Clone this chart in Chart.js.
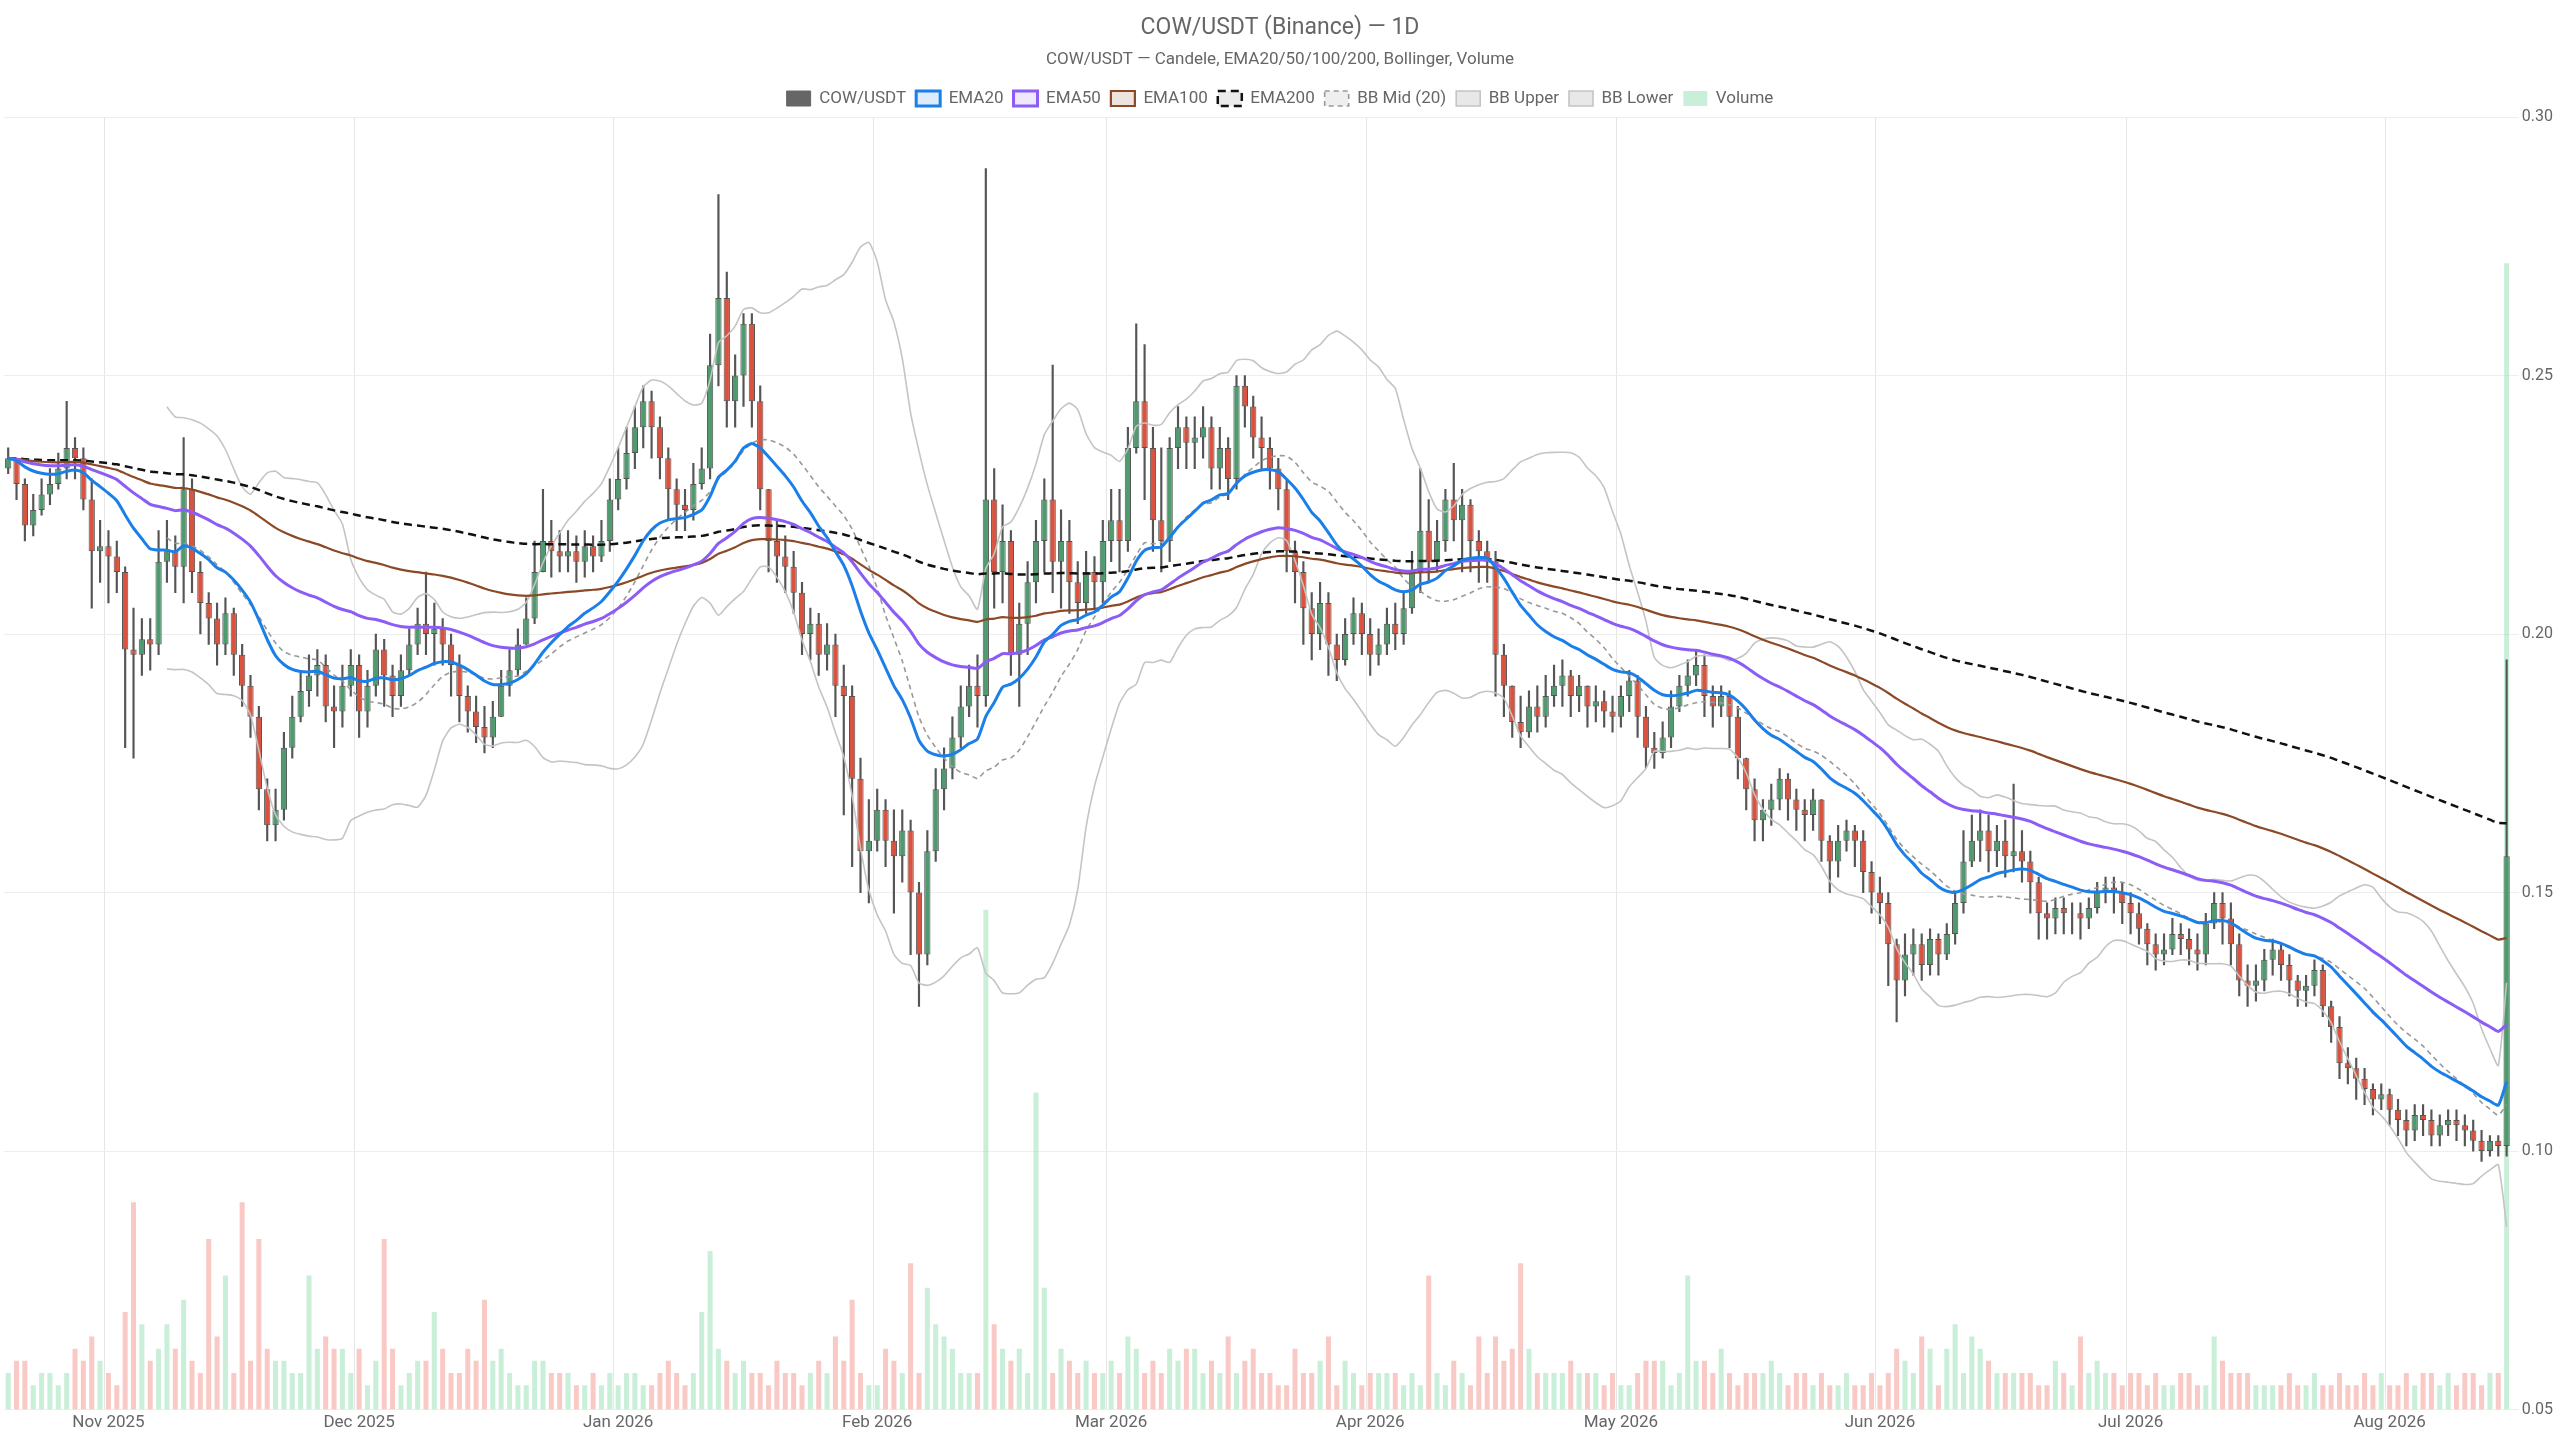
<!DOCTYPE html>
<html><head><meta charset="utf-8">
<script src="https://cdn.jsdelivr.net/npm/chart.js@4.4.1/dist/chart.umd.min.js"></script>
<style>html,body{margin:0;padding:0;background:#fff}#wrap{width:2560px;height:1440px}</style>
</head><body><div id="wrap"><canvas id="c"></canvas></div>
<script>
const startDate = '2025-10-20';
const closes = [
0.234,0.229,0.221,0.224,0.227,0.229,0.232,0.236,0.234,0.226,0.216,0.217,
0.215,0.212,0.197,0.196,0.199,0.198,0.214,0.216,0.213,0.228,0.212,0.206,0.203,0.198,0.204,0.196,0.190,0.184,0.170,0.163,0.166,0.178,0.184,0.189,0.192,0.194,0.186,0.185,0.190,0.194,
0.185,0.190,0.197,0.192,0.188,0.193,0.198,0.202,0.200,0.201,0.198,0.194,0.188,0.185,0.182,0.180,0.184,0.190,0.193,0.198,0.203,0.212,0.218,0.216,0.215,0.216,0.214,0.217,0.215,0.218,0.226,
0.230,0.235,0.240,0.245,0.240,0.234,0.228,0.225,0.224,0.229,0.232,0.252,0.265,0.245,0.250,0.260,0.245,0.228,0.218,0.215,0.213,0.208,0.200,0.202,0.196,0.198,0.190,0.188,0.172,0.158,0.160,
0.166,0.160,0.157,0.162,0.150,0.138,0.158,0.170,0.174,0.180,0.186,0.190,0.188,0.226,0.212,0.218,0.196,0.202,0.210,0.218,0.226,0.214,0.218,0.210,0.206,0.212,0.210,0.218,
0.222,0.218,0.236,0.245,0.236,0.222,0.218,0.236,0.240,0.237,0.238,0.240,0.232,0.236,0.230,0.248,0.244,0.238,0.236,0.232,0.228,0.216,0.212,0.205,0.200,0.206,0.198,0.195,0.200,0.204,0.200,
0.196,0.198,0.202,0.200,0.205,0.212,0.220,0.214,0.218,0.226,0.222,0.225,0.218,0.216,0.214,0.196,0.190,0.183,0.181,0.186,0.184,0.188,0.190,0.192,0.188,0.190,0.186,0.187,0.185,0.184,
0.188,0.191,0.184,0.178,0.177,0.180,0.186,0.190,0.192,0.194,0.188,0.186,0.188,0.184,0.176,0.170,0.164,0.166,0.168,0.172,0.168,0.166,0.165,0.168,0.160,0.156,0.160,0.162,0.160,0.154,0.150,
0.148,0.140,0.133,0.138,0.140,0.136,0.141,0.138,0.142,0.148,0.156,0.160,0.162,0.158,0.160,0.157,0.158,0.156,0.152,0.146,0.145,0.147,0.146,0.146,0.145,0.147,0.150,0.151,0.150,0.148,
0.146,0.143,0.140,0.138,0.139,0.142,0.141,0.139,0.138,0.144,0.148,0.145,0.140,0.133,0.132,0.133,0.137,0.139,0.136,0.133,0.131,0.132,0.135,0.128,0.124,0.117,0.116,0.114,0.112,0.110,0.111,
0.108,0.106,0.104,0.107,0.106,0.103,0.105,0.106,0.105,0.104,0.102,0.100,0.102,0.101,0.157];
const highs = [
0.236,0.234,0.230,0.227,0.230,0.232,0.235,0.245,0.238,0.236,0.230,0.222,
0.220,0.218,0.213,0.205,0.203,0.203,0.220,0.222,0.219,0.238,0.230,0.214,0.208,0.206,0.207,0.205,0.198,0.192,0.186,0.172,0.170,0.181,0.188,0.193,0.196,0.197,0.196,0.190,0.194,0.197,
0.196,0.193,0.200,0.199,0.194,0.196,0.201,0.205,0.212,0.206,0.203,0.200,0.196,0.190,0.188,0.186,0.187,0.193,0.197,0.201,0.207,0.218,0.228,0.222,0.220,0.220,0.219,0.220,0.219,0.222,0.230,
0.236,0.240,0.244,0.248,0.247,0.242,0.236,0.230,0.228,0.233,0.236,0.258,0.285,0.270,0.254,0.262,0.262,0.248,0.228,0.222,0.219,0.216,0.210,0.205,0.204,0.202,0.200,0.194,0.190,0.176,0.168,
0.170,0.168,0.166,0.166,0.164,0.152,0.162,0.174,0.178,0.184,0.190,0.194,0.196,0.290,0.232,0.225,0.220,0.206,0.214,0.222,0.230,0.252,0.224,0.222,0.214,0.216,0.215,0.222,
0.228,0.228,0.240,0.260,0.256,0.240,0.236,0.238,0.244,0.242,0.242,0.244,0.242,0.240,0.238,0.250,0.250,0.246,0.242,0.238,0.234,0.230,0.218,0.214,0.208,0.210,0.208,0.200,0.203,0.207,0.206,
0.203,0.201,0.205,0.206,0.208,0.216,0.232,0.226,0.222,0.228,0.233,0.228,0.226,0.220,0.218,0.216,0.198,0.190,0.188,0.189,0.190,0.192,0.194,0.195,0.193,0.192,0.190,0.190,0.189,0.188,
0.190,0.193,0.192,0.186,0.181,0.183,0.189,0.192,0.195,0.197,0.196,0.190,0.190,0.189,0.186,0.176,0.172,0.168,0.171,0.174,0.173,0.170,0.168,0.170,0.168,0.161,0.163,0.164,0.163,0.162,0.156,
0.153,0.150,0.141,0.142,0.143,0.142,0.143,0.142,0.144,0.150,0.162,0.165,0.166,0.165,0.163,0.164,0.171,0.162,0.158,0.153,0.148,0.149,0.149,0.148,0.148,0.149,0.152,0.153,0.153,0.152,
0.150,0.148,0.144,0.142,0.142,0.145,0.144,0.143,0.142,0.146,0.150,0.150,0.148,0.142,0.136,0.136,0.139,0.141,0.140,0.138,0.134,0.134,0.137,0.136,0.129,0.126,0.120,0.118,0.116,0.113,0.113,
0.112,0.110,0.108,0.109,0.109,0.108,0.107,0.108,0.108,0.107,0.106,0.104,0.103,0.103,0.195];
const lows = [
0.231,0.226,0.218,0.219,0.223,0.225,0.228,0.230,0.230,0.224,0.205,0.210,
0.206,0.208,0.178,0.176,0.192,0.193,0.196,0.210,0.208,0.206,0.208,0.200,0.198,0.194,0.196,0.192,0.186,0.180,0.166,0.160,0.160,0.164,0.176,0.183,0.186,0.188,0.183,0.178,0.182,0.188,
0.180,0.182,0.188,0.186,0.184,0.186,0.192,0.196,0.196,0.194,0.194,0.188,0.183,0.181,0.179,0.177,0.178,0.184,0.188,0.192,0.198,0.202,0.212,0.211,0.212,0.212,0.210,0.211,0.212,0.214,0.216,
0.224,0.228,0.232,0.236,0.234,0.230,0.222,0.220,0.220,0.222,0.228,0.230,0.248,0.240,0.240,0.244,0.240,0.224,0.212,0.210,0.208,0.204,0.196,0.195,0.192,0.193,0.184,0.165,0.155,0.150,0.148,
0.158,0.155,0.146,0.152,0.138,0.128,0.136,0.156,0.166,0.172,0.178,0.184,0.182,0.186,0.205,0.206,0.192,0.186,0.196,0.206,0.212,0.208,0.205,0.204,0.202,0.204,0.205,0.206,
0.214,0.212,0.216,0.235,0.226,0.216,0.212,0.214,0.232,0.232,0.232,0.234,0.228,0.228,0.226,0.228,0.240,0.234,0.232,0.228,0.224,0.212,0.206,0.198,0.195,0.197,0.192,0.191,0.194,0.198,0.196,
0.192,0.194,0.196,0.197,0.198,0.204,0.208,0.210,0.212,0.216,0.218,0.212,0.212,0.210,0.210,0.188,0.184,0.180,0.178,0.180,0.181,0.182,0.186,0.186,0.184,0.185,0.182,0.183,0.182,0.181,
0.182,0.185,0.180,0.174,0.174,0.176,0.178,0.185,0.188,0.190,0.184,0.182,0.184,0.178,0.172,0.166,0.160,0.160,0.163,0.166,0.164,0.162,0.160,0.162,0.156,0.150,0.153,0.158,0.155,0.150,0.146,
0.144,0.132,0.125,0.130,0.134,0.133,0.134,0.134,0.137,0.140,0.146,0.155,0.156,0.154,0.155,0.153,0.154,0.152,0.146,0.141,0.141,0.142,0.142,0.142,0.141,0.143,0.146,0.148,0.146,0.144,
0.142,0.140,0.136,0.135,0.136,0.138,0.138,0.136,0.135,0.136,0.143,0.140,0.136,0.130,0.128,0.129,0.131,0.134,0.133,0.130,0.128,0.128,0.130,0.126,0.121,0.114,0.113,0.110,0.109,0.107,0.108,
0.105,0.103,0.101,0.102,0.103,0.101,0.101,0.103,0.102,0.101,0.100,0.098,0.099,0.099,0.099];
const volumes = [
3,4,4,2,3,3,2,3,5,4,6,4,
3,2,8,17,7,4,5,7,5,9,4,3,14,6,11,3,17,4,14,5,4,4,3,3,11,5,6,5,5,3,
5,2,4,14,5,2,3,4,4,8,5,3,3,5,4,9,4,5,3,2,2,4,4,3,3,3,2,2,3,2,3,
2,3,3,2,2,3,4,3,2,3,8,13,5,4,3,4,3,3,2,4,3,3,2,3,4,3,6,4,9,3,2,
2,5,4,3,12,3,10,7,6,5,3,3,3,41,7,5,4,5,3,26,10,3,5,4,3,4,3,3,
4,3,6,5,3,4,3,5,4,5,5,3,4,3,6,3,4,5,3,3,2,2,5,3,3,4,6,2,4,3,2,
3,3,3,3,2,3,2,11,3,2,4,3,2,6,3,6,4,5,12,5,3,3,3,3,4,3,3,3,2,3,
2,2,3,4,4,4,2,3,11,4,4,3,5,3,2,3,3,3,4,3,2,3,3,2,3,2,2,3,2,2,3,
2,3,5,4,3,6,5,2,5,7,3,6,5,4,3,3,3,3,3,2,2,4,3,2,6,3,4,3,3,2,
3,3,2,3,2,2,3,3,2,2,6,4,3,3,3,2,2,2,2,3,2,2,3,2,2,3,2,2,3,2,3,
2,2,3,2,3,3,2,3,2,3,3,2,3,3,94];
const priceTicks = [0.05,0.10,0.15,0.20,0.25,0.30];

const n = closes.length;
const mn = ['Jan','Feb','Mar','Apr','May','Jun','Jul','Aug','Sep','Oct','Nov','Dec'];
const labels = [];
const d0 = new Date(startDate+'T00:00:00Z');
for(let i=0;i<n;i++){const d=new Date(d0.getTime()+i*86400000);labels.push({day:d.getUTCDate(),txt:mn[d.getUTCMonth()]+' '+d.getUTCFullYear()});}
const opens = closes.map((c,i)=> i===0?0.232:closes[i-1]);
const up = closes.map((c,i)=>c>=opens[i]);
function ema(p){const k=2/(p+1);const o=[];let e=closes[0];for(let i=0;i<n;i++){e=i===0?closes[0]:closes[i]*k+e*(1-k);o.push(e);}return o;}
const bbMid=[],bbUp=[],bbLo=[];
for(let i=0;i<n;i++){if(i<19){bbMid.push(null);bbUp.push(null);bbLo.push(null);continue;}
 const s=closes.slice(i-19,i+1);const m=s.reduce((a,b)=>a+b,0)/20;const sd=Math.sqrt(s.reduce((a,b)=>a+(b-m)*(b-m),0)/20);
 bbMid.push(m);bbUp.push(m+2*sd);bbLo.push(m-2*sd);}
const X = labels.map((l,i)=>i);
const line=(label,data,color,w,dash,bg,order)=>({type:'line',label,data,borderColor:color,backgroundColor:bg,borderWidth:w,borderDash:dash||[],pointRadius:0,tension:0.2,yAxisID:'y',order,spanGaps:false});
const upC='#4f9a6e', dnC='#d9533f';
new Chart(document.getElementById('c'),{
 data:{labels:X,datasets:[
  {type:'bar',label:'COW/USDT',data:closes.map((c,i)=>[opens[i],c]),backgroundColor:up.map(u=>u?upC:dnC),borderColor:'#555',borderWidth:1,borderSkipped:false,barPercentage:0.75,categoryPercentage:1,grouped:false,yAxisID:'y',order:4},
  {type:'bar',label:'wick',data:highs.map((h,i)=>[lows[i],h]),backgroundColor:'#555',barThickness:1.5,grouped:false,yAxisID:'y',order:5},
  line('EMA20',ema(20),'#1a7fe8',3,null,'rgba(26,127,232,0.15)',1),
  line('EMA50',ema(50),'#8b5cf6',3,null,'rgba(139,92,246,0.15)',1),
  line('EMA100',ema(100),'#8b4a25',2.2,null,'rgba(139,74,37,0.15)',1),
  line('EMA200',ema(200),'#111',2.5,[8,5],'rgba(0,0,0,0.08)',1),
  line('BB Mid (20)',bbMid,'#999',1.6,[5,4],'rgba(150,150,150,0.15)',2),
  line('BB Upper',bbUp,'#c4c4c4',1.6,null,'rgba(180,180,180,0.3)',2),
  line('BB Lower',bbLo,'#c4c4c4',1.6,null,'rgba(180,180,180,0.3)',2),
  {type:'bar',label:'Volume',data:volumes,backgroundColor:up.map(u=>u?'rgba(120,215,160,0.4)':'rgba(240,120,110,0.4)'),barPercentage:0.6,categoryPercentage:1,grouped:false,yAxisID:'yv',order:10}
 ]},
 options:{responsive:true,maintainAspectRatio:false,animation:false,
  layout:{padding:{left:4,right:4,top:10,bottom:4}},
  plugins:{
   title:{display:true,text:'COW/USDT (Binance) — 1D',color:'#666',font:{family:'Roboto',size:23,weight:'normal'},padding:{top:4,bottom:8}},
   subtitle:{display:true,text:'COW/USDT — Candele, EMA20/50/100/200, Bollinger, Volume',color:'#666',font:{family:'Roboto',size:17},padding:{bottom:10}},
   legend:{labels:{font:{family:'Roboto',size:17},color:'#666',boxWidth:24,boxHeight:15,
     filter:(it)=>it.text!=='wick',
     sort:(a,b)=>a.datasetIndex-b.datasetIndex,
     generateLabels:(ch)=>{const items=Chart.defaults.plugins.legend.labels.generateLabels(ch);items.forEach(it=>{if(it.text==='COW/USDT'){it.fillStyle='#666';it.strokeStyle='#666';}if(it.text==='Volume'){it.fillStyle='rgba(120,215,160,0.4)';it.strokeStyle='rgba(120,215,160,0.4)';}});return items;}}},
   tooltip:{enabled:false}},
  scales:{
   x:{offset:true,ticks:{autoSkip:false,maxRotation:0,color:'#666',font:{family:'Roboto',size:17},callback:(v,i)=>labels[i].day===1?labels[i].txt:''},
      grid:{color:(c)=>labels[c.index]&&labels[c.index].day===1?'#e6e6e6':'rgba(0,0,0,0)',drawTicks:false},border:{display:false}},
   y:{position:'right',min:0.05,max:0.30,afterBuildTicks:(a)=>{a.ticks=priceTicks.map(v=>({value:v}));},
      ticks:{color:'#666',font:{family:'Roboto',size:16},callback:v=>v.toFixed(2)},grid:{color:'#eee'},border:{display:false}},
   yv:{display:false,min:0,max:106}
  }}
});
</script></body></html>
